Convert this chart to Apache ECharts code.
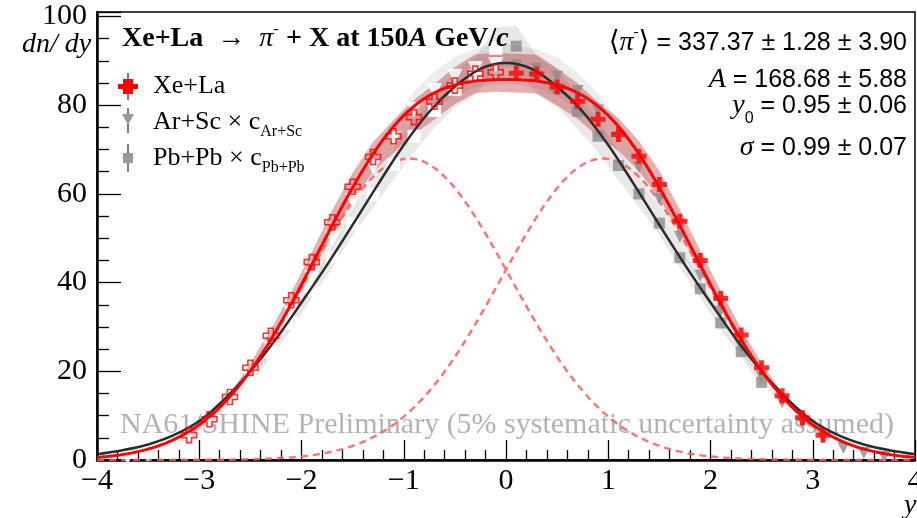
<!DOCTYPE html>
<html>
<head>
<meta charset="utf-8">
<title>Xe+La pi- rapidity spectrum</title>
<script src="https://cdn.jsdelivr.net/npm/echarts@6/dist/echarts.min.js"></script>
<style>
  html, body { margin: 0; padding: 0; background: #fff; }
  #chart { width: 917px; height: 518px; }
</style>
</head>
<body>
<div id="chart"></div>
<script>
// ---- Xe+La (red crosses): rapidity bin centres and dn/dy ----
const xeLaY = [-3.1, -2.9, -2.7, -2.5, -2.3, -2.1, -1.9, -1.7, -1.5, -1.3, -1.1, -0.9, -0.7, -0.5, -0.3, -0.1,
               0.1, 0.3, 0.5, 0.7, 0.9, 1.1, 1.3, 1.5, 1.7, 1.9, 2.1, 2.3, 2.5, 2.7, 2.9, 3.1];
const xeLaVals = [5.6, 9.2, 14.2, 20.8, 28.0, 36.0, 44.6, 53.6, 61.6, 68.3, 73.0, 77.3, 80.8, 84.4, 87.1, 87.4,
                  87.2, 87.0, 84.1, 80.9, 76.8, 73.4, 68.5, 62.1, 53.8, 45.0, 36.4, 28.2, 20.8, 14.5, 9.5, 5.6];

// ---- Ar+Sc (grey triangles), scaled by c_Ar+Sc ----
const arScY = [-3.7, -3.5, -3.3, -3.1, -2.9, -2.7, -2.5, -2.3, -2.1, -1.9, -1.7, -1.5, -1.3, -1.1, -0.9, -0.7, -0.5, -0.3, -0.1,
               0.1, 0.3, 0.5, 0.7, 0.9, 1.1, 1.3, 1.5, 1.7, 1.9, 2.1, 2.3, 2.5, 2.7, 2.9, 3.1, 3.3, 3.5, 3.7];
const arScVals = [0.8, 1.4, 2.8, 4.8, 8.2, 12.8, 18.6, 25.3, 33.2, 41.2, 50.0, 58.6, 66.2, 72.6, 79.2, 83.4, 86.6, 88.4, 89.2,
                  89.0, 88.2, 86.4, 83.2, 78.8, 72.8, 66.0, 58.9, 50.3, 41.6, 33.5, 25.6, 18.8, 13.0, 8.4, 5.0, 2.7, 1.6, 0.7];

// ---- Pb+Pb (grey squares), scaled by c_Pb+Pb ----
const pbPbY = [-2.5, -2.3, -2.1, -1.9, -1.7, -1.5, -1.3, -1.1, -0.9, -0.7, -0.5, -0.3, -0.1,
               0.1, 0.3, 0.5, 0.7, 0.9, 1.1, 1.3, 1.5, 1.7, 1.9, 2.1, 2.3, 2.5];
const pbPbVals = [17.6, 24.4, 30.9, 38.4, 45.6, 53.3, 59.8, 66.6, 73.0, 78.8, 83.6, 86.6, 92.8,
                  93.3, 86.8, 83.8, 78.6, 73.0, 66.4, 60.0, 53.4, 45.6, 38.6, 30.9, 24.4, 17.5];

// ---- reference curve (dark line) sampled every 0.25 in y ----
const refCurveY = [-4, -3.75, -3.5, -3.25, -3, -2.75, -2.5, -2.25, -2, -1.75, -1.5, -1.25, -1, -0.75, -0.5, -0.25, 0,
                   0.25, 0.5, 0.75, 1, 1.25, 1.5, 1.75, 2, 2.25, 2.5, 2.75, 3, 3.25, 3.5, 3.75, 4];
const refCurveVals = [1.3, 2.2, 3.5, 5.6, 8.8, 13.8, 20.0, 27.3, 35.5, 44.0, 53.0, 62.2, 71.0, 78.5, 84.2, 88.2, 89.5,
                      88.2, 84.2, 78.5, 71.0, 62.2, 53.0, 44.0, 35.5, 27.3, 20.0, 13.8, 8.8, 5.6, 3.5, 2.2, 1.3];

// ---- double-Gaussian fit parameters for Xe+La ----
const fitA = 168.68;
const fitY0 = 0.95;
const fitSigma = 0.99;
const sysFraction = 0.05;   // 5% systematic band

const xTicks = [-4, -3, -2, -1, 0, 1, 2, 3, 4];
const yTicks = [0, 20, 40, 60, 80, 100];

// Fit function sampled on a fine grid
function gaussPart(y, mu) {
  return fitA / (fitSigma * Math.sqrt(2 * Math.PI)) * Math.exp(-((y - mu) * (y - mu)) / (2 * fitSigma * fitSigma));
}
const fitGrid = [];
for (let i = 0; i <= 400; i++) fitGrid.push(-4 + i * 0.02);
const fitTotal = fitGrid.map(y => [y, gaussPart(y, fitY0) + gaussPart(y, -fitY0)]);
const fitLeft = fitGrid.map(y => [y, gaussPart(y, -fitY0)]);
const fitRight = fitGrid.map(y => [y, gaussPart(y, fitY0)]);

const pairs = (ys, vs) => ys.map((y, i) => [y, vs[i]]);
const negSide = (ys, vs) => pairs(ys, vs).filter(d => d[0] < 0);
const posSide = (ys, vs) => pairs(ys, vs).filter(d => d[0] > 0);

// Filled polygon for a +-fraction systematic band through the points
function bandSeries(name, ys, vs, fill, z) {
  const data = ys.map((y, i) => [y, vs[i] * (1 - sysFraction), vs[i] * (1 + sysFraction)]);
  return {
    type: 'custom', name: name, z: z, silent: true, clip: true,
    encode: { x: 0, y: [1, 2] },
    data: data,
    renderItem: function (params, api) {
      if (params.dataIndex !== 0) return null;
      const upper = data.map(d => api.coord([d[0], d[2]]));
      const lower = data.map(d => api.coord([d[0], d[1]])).reverse();
      return { type: 'polygon', shape: { points: upper.concat(lower) }, style: { fill: fill } };
    }
  };
}

const CROSS = 'path://M1,0H2V1H3V2H2V3H1V2H0V1H1Z';
const SERIF = '"Liberation Serif", "DejaVu Serif", serif';
const SANS = '"Liberation Sans", "DejaVu Sans", sans-serif';

const series = [
  bandSeries('Ar+Sc sys', arScY, arScVals, 'rgba(0,0,0,0.07)', 1),
  bandSeries('Pb+Pb sys', pbPbY, pbPbVals, 'rgba(0,0,0,0.09)', 1),
  bandSeries('Xe+La sys', xeLaY, xeLaVals, 'rgba(185,35,35,0.36)', 2),
  { type: 'line', name: 'component -y0', data: fitLeft, showSymbol: false, z: 3, silent: true,
    lineStyle: { color: 'rgba(255,90,90,0.85)', width: 2.5, type: [7, 5] } },
  { type: 'line', name: 'component +y0', data: fitRight, showSymbol: false, z: 3, silent: true,
    lineStyle: { color: 'rgba(255,90,90,0.85)', width: 2.5, type: [7, 5] } },
  { type: 'scatter', name: 'Pb+Pb open', data: negSide(pbPbY, pbPbVals), symbol: 'emptyRect', symbolSize: 11, z: 4,
    itemStyle: { color: '#fff', borderColor: '#8f8f8f', borderWidth: 1.4, opacity: 1 } },
  { type: 'scatter', name: 'Pb+Pb', data: posSide(pbPbY, pbPbVals), symbol: 'rect', symbolSize: 11, z: 4,
    itemStyle: { color: '#8c8c8c' } },
  { type: 'scatter', name: 'Ar+Sc open', data: negSide(arScY, arScVals), symbol: 'emptyTriangle', symbolRotate: 180, symbolSize: 12, z: 4,
    itemStyle: { color: '#fff', borderColor: '#8f8f8f', borderWidth: 1.4 } },
  { type: 'scatter', name: 'Ar+Sc', data: posSide(arScY, arScVals), symbol: 'triangle', symbolRotate: 180, symbolSize: 12, z: 4,
    itemStyle: { color: '#8c8c8c' } },
  { type: 'line', name: 'reference fit', data: pairs(refCurveY, refCurveVals), smooth: 0.35, showSymbol: false, z: 5, silent: true,
    lineStyle: { color: '#2b2b2b', width: 2.5 } },
  { type: 'line', name: 'Xe+La fit', data: fitTotal, showSymbol: false, z: 6, silent: true,
    lineStyle: { color: '#ff0000', width: 3 } },
  { type: 'scatter', name: 'Xe+La open', data: negSide(xeLaY, xeLaVals), symbol: CROSS, symbolSize: 15, z: 7,
    itemStyle: { color: 'rgba(255,255,255,0)', borderColor: '#ff0000', borderWidth: 1.6 } },
  { type: 'scatter', name: 'Xe+La', data: posSide(xeLaY, xeLaVals), symbol: CROSS, symbolSize: 15, z: 7,
    itemStyle: { color: '#ff0000' } }
];

// Legend entries, title, fit results and watermark
const rich = {
  t: { fontFamily: SERIF, fontSize: 26, lineHeight: 36, verticalAlign: 'middle', fill: '#000' },
  s: { fontFamily: SERIF, fontSize: 16, lineHeight: 36, verticalAlign: 'bottom', fill: '#000' }
};
const graphic = [
  { type: 'text', x: 120, y: 425, z: 1, silent: true,
    style: { text: 'NA61/SHINE Preliminary (5% systematic uncertainty assumed)', font: '30px ' + SERIF,
             fill: '#b3b3b3', verticalAlign: 'middle' } },
  { type: 'text', x: 22, y: 45, z: 10,
    style: { text: 'dn/ dy', font: 'italic 28px ' + SERIF, fill: '#000', verticalAlign: 'middle' } },
  { type: 'text', x: 904, y: 506, z: 10,
    style: { text: 'y', font: 'italic 28px ' + SERIF, fill: '#000', verticalAlign: 'middle' } },
  // title
  { type: 'text', x: 122, y: 39, z: 10,
    style: {
      text: '{b|Xe+La  }{a|→}{b|  }{p|π}{u|-}{b| + X at 150}{bi|A}{b| GeV/}{bi|c}',
      verticalAlign: 'middle',
      rich: {
        b: { fontFamily: SERIF, fontWeight: 'bold', fontSize: 28, lineHeight: 36, verticalAlign: 'middle', fill: '#000' },
        bi: { fontFamily: SERIF, fontWeight: 'bold', fontStyle: 'italic', fontSize: 28, lineHeight: 36, verticalAlign: 'middle', fill: '#000' },
        a: { fontFamily: SERIF, fontSize: 28, lineHeight: 36, verticalAlign: 'middle', fill: '#000' },
        p: { fontFamily: SERIF, fontStyle: 'italic', fontSize: 28, lineHeight: 36, verticalAlign: 'middle', fill: '#000' },
        u: { fontFamily: SERIF, fontSize: 17, lineHeight: 36, verticalAlign: 'top', fill: '#000' }
      }
    } },
  // legend markers
  { type: 'line', z: 10, shape: { x1: 128, y1: 73, x2: 128, y2: 100 }, style: { stroke: '#3344ee', lineWidth: 1.5 } },
  { type: 'polygon', z: 11, shape: { points: [[123, 79], [133, 79], [133, 84], [138, 84], [138, 89], [133, 89], [133, 94], [123, 94], [123, 89], [118, 89], [118, 84], [123, 84]] },
    style: { fill: '#ff0000' } },
  { type: 'line', z: 10, shape: { x1: 128, y1: 108, x2: 128, y2: 133 }, style: { stroke: '#555', lineWidth: 1.5 } },
  { type: 'polygon', z: 11, shape: { points: [[122, 114], [134, 114], [128, 125]] }, style: { fill: '#999' } },
  { type: 'line', z: 10, shape: { x1: 128, y1: 144, x2: 128, y2: 172 }, style: { stroke: '#555', lineWidth: 1.5 } },
  { type: 'rect', z: 11, shape: { x: 123, y: 153, width: 10, height: 10 }, style: { fill: '#999' } },
  // legend labels
  { type: 'text', x: 153, y: 86, z: 10, style: { text: '{t|Xe+La}', verticalAlign: 'middle', rich: rich } },
  { type: 'text', x: 153, y: 122, z: 10, style: { text: '{t|Ar+Sc × c}{s|Ar+Sc}', verticalAlign: 'middle', rich: rich } },
  { type: 'text', x: 153, y: 158, z: 10, style: { text: '{t|Pb+Pb × c}{s|Pb+Pb}', verticalAlign: 'middle', rich: rich } }
];

// fit results, right aligned
const resRich = {
  t: { fontFamily: SANS, fontSize: 25, lineHeight: 36, verticalAlign: 'middle', fill: '#000' },
  i: { fontFamily: SERIF, fontStyle: 'italic', fontSize: 28, lineHeight: 36, verticalAlign: 'middle', fill: '#000' },
  g: { fontFamily: SERIF, fontSize: 28, lineHeight: 36, verticalAlign: 'middle', fill: '#000' },
  u: { fontFamily: SERIF, fontSize: 15, lineHeight: 36, verticalAlign: 'top', fill: '#000' },
  d: { fontFamily: SANS, fontSize: 16, lineHeight: 42, verticalAlign: 'bottom', fill: '#000' }
};
const resLines = [
  ['{g|⟨}{i|π}{u|-}{g|⟩}{t| = 337.37 ± 1.28 ± 3.90}', 43],
  ['{i|A}{t| = 168.68 ± 5.88}', 80],
  ['{i|y}{d|0}{t| = 0.95 ± 0.06}', 106],
  ['{i|σ}{t| = 0.99 ± 0.07}', 148]
];
resLines.forEach(function (l) {
  graphic.push({ type: 'text', x: 907, y: l[1], z: 10,
    style: { text: l[0], align: 'right', verticalAlign: 'middle', rich: resRich } });
});

const chart = echarts.init(document.getElementById('chart'), null, { renderer: 'canvas' });
chart.setOption({
  animation: false,
  backgroundColor: '#fff',
  grid: { left: 97, right: 2, top: 12, bottom: 58, outerBoundsMode: 'none', containLabel: false,
          show: true, borderColor: '#000', borderWidth: 1.5, backgroundColor: 'transparent' },
  xAxis: {
    type: 'value', min: xTicks[0], max: xTicks[xTicks.length - 1], interval: 1,
    axisLine: { show: true, onZero: false, lineStyle: { color: '#000', width: 2.5 } },
    axisTick: { inside: true, length: 20, lineStyle: { color: '#000', width: 1.3 } },
    minorTick: { show: true, splitNumber: 5, length: 10, lineStyle: { color: '#000', width: 1.3 } },
    splitLine: { show: false },
    axisLabel: { margin: 6, color: '#000', fontFamily: SERIF, fontSize: 30, showMinLabel: true, showMaxLabel: true,
                 hideOverlap: false, formatter: v => String(v).replace('-', '\u2212') }
  },
  yAxis: {
    type: 'value', min: yTicks[0], max: 101, interval: 20,
    axisLine: { show: true, onZero: false, lineStyle: { color: '#000', width: 2.5 } },
    axisTick: { inside: true, length: 24, lineStyle: { color: '#000', width: 1.3 } },
    minorTick: { show: true, splitNumber: 4, length: 12, lineStyle: { color: '#000', width: 1.3 } },
    splitLine: { show: false },
    axisLabel: { margin: 10, color: '#000', fontFamily: SERIF, fontSize: 30, showMaxLabel: false,
                 formatter: v => (yTicks.indexOf(v) >= 0 ? String(v) : '') }
  },
  series: series,
  graphic: graphic
});
</script>
</body>
</html>
